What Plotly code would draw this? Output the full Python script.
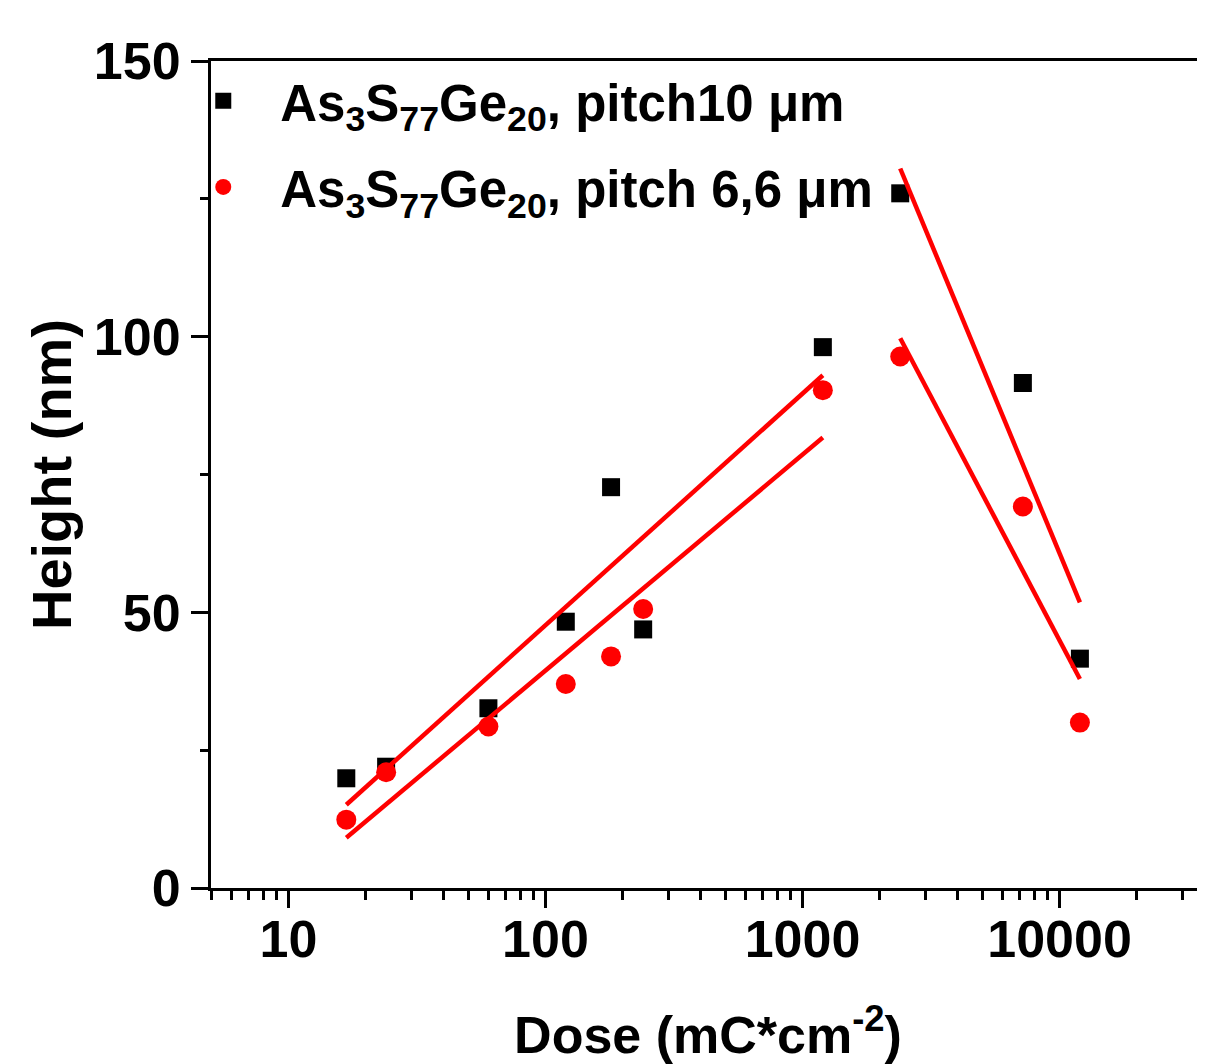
import plotly.graph_objects as go
import math

# ---- data ----
dose = [16.8, 24, 60, 120, 180, 240, 1200, 2400, 7200, 12000]
height_p10 = [19.9, 22.0, 32.6, 48.3, 72.7, 46.9, 98.1, 126.0, 91.6, 41.6]
height_p66 = [12.4, 21.0, 29.3, 37.0, 42.0, 50.6, 90.3, 96.4, 69.2, 30.0]

# fit line end points
fit_rise_x = [16.8, 1200]
fit_rise_p10 = [15.1, 93.0]
fit_rise_p66 = [9.1, 81.7]
fit_fall_x = [2400, 12000]
fit_fall_p10 = [130.5, 51.8]
fit_fall_p66 = [99.7, 37.9]

name_p10 = "As<sub>3</sub>S<sub>77</sub>Ge<sub>20</sub>, pitch10 \u03bcm"
name_p66 = "As<sub>3</sub>S<sub>77</sub>Ge<sub>20</sub>, pitch 6,6 \u03bcm"

x_title = "Dose (mC*cm<sup>-2</sup>)"
y_title = "Height (nm)"
x_tickvals = [10, 100, 1000, 10000]
x_ticktext = ["10", "100", "1000", "10000"]
y_ticks = [0, 50, 100, 150]

RED = "#ff0000"
FONT = "Liberation Sans, Arial, sans-serif"

fig = go.Figure()
fig.add_trace(go.Scatter(x=dose, y=height_p10, mode="markers", name=name_p10,
                         marker=dict(symbol="square", size=18, color="black"),
                         legendgroup="a"))
fig.add_trace(go.Scatter(x=dose, y=height_p66, mode="markers", name=name_p66,
                         marker=dict(symbol="circle", size=20, color=RED),
                         legendgroup="b"))
for fx, fy in [(fit_rise_x, fit_rise_p10), (fit_rise_x, fit_rise_p66),
               (fit_fall_x, fit_fall_p10), (fit_fall_x, fit_fall_p66)]:
    fig.add_trace(go.Scatter(x=fx, y=fy, mode="lines", showlegend=False,
                             line=dict(color=RED, width=4.5)))

fig.update_layout(
    width=1197, height=1056,
    margin=dict(l=203, r=0, t=53, b=176),
    paper_bgcolor="white", plot_bgcolor="white",
    font=dict(family=FONT, color="black", size=51, weight="bold"),
    showlegend=True,
    legend=dict(x=-0.045, y=1.0, xanchor="left", yanchor="top",
                bgcolor="rgba(0,0,0,0)", font=dict(size=51, family=FONT, weight="bold"),
                itemwidth=104, tracegroupgap=17),
)

fig.update_xaxes(
    type="log", range=[math.log10(5), math.log10(36800)],
    tickmode="array", tickvals=x_tickvals, ticktext=x_ticktext,
    showline=True, linecolor="black", linewidth=3, mirror=True,
    ticks="outside", ticklen=17, tickwidth=3, tickcolor="black",
    ticklabelstandoff=-13,
    tickfont=dict(size=52, family=FONT, weight="bold"),
    minor=dict(dtick="D1", ticks="outside", ticklen=9, tickwidth=3, tickcolor="black", showgrid=False),
    showgrid=False, zeroline=False,
    title=dict(text=x_title, font=dict(size=52, family=FONT, weight="bold"), standoff=58),
)
fig.update_yaxes(
    range=[0, 150], tickvals=y_ticks,
    showline=True, linecolor="black", linewidth=3, mirror=False,
    ticks="outside", ticklen=17, tickwidth=3, tickcolor="black",
    tickfont=dict(size=52, family=FONT, weight="bold"),
    minor=dict(dtick=25, ticks="outside", ticklen=8, tickwidth=3, tickcolor="black", showgrid=False),
    showgrid=False, zeroline=False,
    title=dict(text=y_title, font=dict(size=56, family=FONT, weight="bold"), standoff=5),
)

fig.write_html("out.html")
